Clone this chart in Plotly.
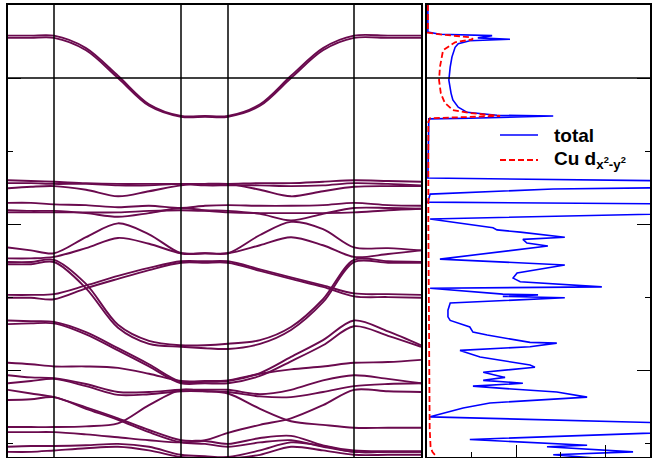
import plotly.graph_objects as go

# ---------------------------------------------------------------------------
# Band structure: cumulative k-path coordinate of each sampled k-point
k_path = [0.00, 0.23, 0.46, 0.78, 1.10, 1.41, 1.73, 1.97, 2.20,
          2.52, 2.83, 3.15, 3.46, 3.80, 4.13]
# positions of the interior high-symmetry points along the path
k_high_sym = [0.46, 1.73, 2.20, 3.46]
k_range = [0.0, 4.13]
energy_range = [-5.19, 1.0]   # eV, Fermi level at 0

# Cu d(x2-y2) derived bands crossing the Fermi level (eV)
bands_conduction = [
    [0.58, 0.58, 0.58, 0.41, 0.03, -0.36, -0.52, -0.52, -0.52, -0.36, 0.03, 0.41, 0.58, 0.58, 0.58],
    [0.55, 0.55, 0.55, 0.38, 0.00, -0.38, -0.53, -0.53, -0.53, -0.38, 0.00, 0.38, 0.55, 0.55, 0.55],
]

# narrow bands between -1.4 and -2.0 eV
bands_upper_valence = [
    [-1.40, -1.41, -1.42, -1.44, -1.45, -1.45, -1.45, -1.45, -1.45, -1.44, -1.44, -1.42, -1.40, -1.41, -1.42],
    [-1.44, -1.44, -1.45, -1.45, -1.47, -1.47, -1.45, -1.47, -1.47, -1.47, -1.48, -1.47, -1.44, -1.45, -1.47],
    [-1.51, -1.49, -1.48, -1.53, -1.62, -1.55, -1.47, -1.45, -1.45, -1.53, -1.62, -1.55, -1.49, -1.48, -1.48],
    [-1.71, -1.71, -1.73, -1.74, -1.77, -1.75, -1.78, -1.75, -1.74, -1.75, -1.75, -1.74, -1.71, -1.74, -1.75],
    [-1.84, -1.84, -1.84, -1.84, -1.84, -1.82, -1.81, -1.82, -1.84, -1.85, -1.85, -1.85, -1.84, -1.81, -1.79],
    [-1.81, -1.82, -1.82, -1.85, -1.90, -1.85, -1.78, -1.81, -1.82, -1.86, -1.95, -1.86, -1.78, -1.78, -1.79],
]

# dispersive bands between -2.0 and -3.7 eV
bands_middle_valence = [
    [-2.32, -2.36, -2.40, -2.18, -1.99, -2.14, -2.40, -2.40, -2.40, -2.15, -1.97, -2.07, -2.32, -2.33, -2.36],
    [-2.47, -2.47, -2.45, -2.33, -2.19, -2.27, -2.40, -2.40, -2.40, -2.29, -2.18, -2.29, -2.45, -2.41, -2.36],
    [-2.52, -2.52, -2.49, -2.82, -3.38, -3.60, -3.66, -3.66, -3.64, -3.59, -3.41, -3.03, -2.49, -2.51, -2.52],
    [-2.55, -2.55, -2.52, -2.88, -3.42, -3.64, -3.68, -3.70, -3.71, -3.64, -3.45, -3.07, -2.52, -2.53, -2.53],
    [-2.97, -2.97, -2.96, -2.84, -2.71, -2.60, -2.51, -2.51, -2.51, -2.62, -2.73, -2.84, -2.95, -2.96, -2.97],
    [-3.01, -3.01, -3.03, -2.88, -2.75, -2.63, -2.53, -2.53, -2.53, -2.64, -2.75, -2.86, -2.99, -3.00, -3.01],
]

# deeper bands below -3.3 eV
bands_lower_valence = [
    [-3.32, -3.33, -3.34, -3.48, -3.70, -3.92, -4.16, -4.16, -4.15, -4.04, -3.82, -3.59, -3.32, -3.47, -3.66],
    [-3.37, -3.36, -3.36, -3.51, -3.73, -3.95, -4.18, -4.18, -4.18, -4.08, -3.88, -3.66, -3.40, -3.53, -3.68],
    [-3.90, -3.92, -3.95, -3.95, -3.97, -4.05, -4.15, -4.15, -4.14, -4.05, -3.99, -3.95, -3.90, -3.89, -3.86],
    [-4.18, -4.15, -4.12, -4.22, -4.34, -4.33, -4.29, -4.29, -4.30, -4.36, -4.37, -4.30, -4.22, -4.19, -4.18],
    [-4.07, -4.10, -4.11, -4.19, -4.30, -4.30, -4.27, -4.27, -4.27, -4.33, -4.27, -4.14, -4.07, -4.12, -4.18],
    [-4.78, -4.78, -4.78, -4.77, -4.73, -4.48, -4.27, -4.29, -4.32, -4.53, -4.70, -4.75, -4.79, -4.79, -4.79],
    [-4.85, -4.85, -4.85, -4.88, -4.92, -4.96, -4.99, -4.96, -4.86, -4.75, -4.66, -4.48, -4.27, -4.29, -4.30],
    [-4.27, -4.32, -4.37, -4.51, -4.66, -4.82, -4.96, -4.97, -5.01, -4.93, -4.90, -5.03, -5.10, -5.11, -5.11],
    [-4.41, -4.40, -4.37, -4.53, -4.68, -4.85, -4.99, -5.01, -5.05, -4.99, -4.96, -5.05, -5.12, -5.12, -5.12],
    [-5.05, -5.04, -5.04, -5.03, -5.01, -5.05, -5.16, -5.18, -5.19, -5.10, -4.99, -5.04, -5.12, -5.12, -5.12],
    [-5.12, -5.12, -5.10, -5.07, -5.05, -5.10, -5.19, -5.21, -5.21, -5.16, -5.05, -5.10, -5.16, -5.16, -5.16],
]

# ---------------------------------------------------------------------------
# Density of states (states/eV) versus energy (eV)
dos_total_energy = [
    1.00, 0.63, 0.60, 0.58, 0.55, 0.53, 0.51, 0.47, 0.42, 0.29, 0.15, -0.03, -0.21, -0.30,
    -0.40, -0.47, -0.51, -0.52, -0.55, -0.56, -1.37, -1.42, -1.49, -1.52, -1.59, -1.70,
    -1.73, -1.84, -1.93, -2.05, -2.08, -2.11, -2.18, -2.21, -2.26, -2.30, -2.48, -2.56,
    -2.67, -2.74, -2.79, -2.86, -2.88, -2.96, -2.97, -2.99, -3.01, -3.08, -3.18, -3.27,
    -3.32, -3.41, -3.48, -3.52, -3.62, -3.63, -3.68, -3.73, -3.82, -3.93, -3.96, -4.00,
    -4.03, -4.10, -4.14, -4.18, -4.22, -4.25, -4.30, -4.37, -4.45, -4.52, -4.64, -4.75,
    -4.82, -4.95, -5.03, -5.05, -5.12, -5.16, -5.21,
]
dos_total = [
    0.02, 0.02, 0.29, 1.46, 1.14, 1.86, 0.96, 0.70, 0.63, 0.56, 0.52, 0.49, 0.54, 0.58,
    0.70, 0.90, 1.57, 2.83, 0.96, 0.04, 0.02, 7.00, 7.00, 2.83, 0.07, 0.02,
    7.00, 7.00, 0.07, 1.48, 1.57, 2.09, 3.09, 2.15, 2.24, 2.71, 0.29, 3.09,
    2.02, 1.93, 2.09, 3.92, 0.07, 1.70, 2.49, 1.70, 3.09, 0.52, 0.47, 0.47,
    0.52, 0.96, 1.03, 1.35, 2.31, 2.91, 2.31, 0.74, 1.19, 2.31, 2.42, 1.70,
    1.26, 1.75, 1.26, 2.15, 1.03, 1.70, 2.91, 3.59, 1.41, 0.81, 0.07, 7.00,
    7.00, 0.96, 3.59, 2.69, 4.62, 2.83, 3.90,
]

dos_cu_energy = [
    1.00, 0.62, 0.59, 0.56, 0.53, 0.49, 0.38, 0.15, -0.03, -0.21, -0.34, -0.44, -0.48,
    -0.52, -0.55, -0.60, -2.00, -3.00, -4.00, -4.80, -5.05, -5.12, -5.19,
]
dos_cu = [
    0.02, 0.02, 0.40, 0.96, 1.03, 0.63, 0.36, 0.29, 0.27, 0.31, 0.40, 0.58, 0.96,
    1.64, 0.07, 0.03, 0.03, 0.04, 0.05, 0.06, 0.08, 0.12, 0.22,
]
dos_range = [0.0, 5.0]

legend_labels = ["total", "Cu d<sub>x<sup>2</sup>-y<sup>2</sup></sub>"]

# ---------------------------------------------------------------------------
W, H = 662, 458
band_color = "#6a0a4e"

fig = go.Figure()

for group in (bands_conduction, bands_upper_valence, bands_middle_valence, bands_lower_valence):
    for band in group:
        fig.add_trace(go.Scatter(
            x=k_path, y=band, mode="lines",
            line=dict(color=band_color, width=1.9, shape="spline", smoothing=0.9),
            showlegend=False, hoverinfo="skip", xaxis="x", yaxis="y"))

fig.add_trace(go.Scatter(
    x=dos_total, y=dos_total_energy, mode="lines",
    line=dict(color="#0000ff", width=1.6),
    showlegend=False, xaxis="x2", yaxis="y2"))
fig.add_trace(go.Scatter(
    x=dos_cu, y=dos_cu_energy, mode="lines",
    line=dict(color="#ff0000", width=1.8, dash="6px,3px"),
    showlegend=False, xaxis="x2", yaxis="y2"))

shapes = []
# high-symmetry verticals
for k in k_high_sym:
    shapes.append(dict(type="line", xref="x", yref="y domain", x0=k, x1=k, y0=0, y1=1,
                       line=dict(color="black", width=1.5), layer="above"))
# Fermi level in both panels
shapes.append(dict(type="line", xref="x domain", yref="y", x0=0, x1=1, y0=0, y1=0,
                   line=dict(color="black", width=1.5), layer="above"))
shapes.append(dict(type="line", xref="x2 domain", yref="y2", x0=0, x1=1, y0=0, y1=0,
                   line=dict(color="black", width=1.5), layer="above"))

# legend samples and labels drawn inside the DOS panel
legend_rows = [135, 160]
legend_styles = [dict(color="#0000ff", width=1.6), dict(color="#ff0000", width=1.8, dash="6px,3px")]
annotations = []
for row, style, label in zip(legend_rows, legend_styles, legend_labels):
    yp = 1 - row / H
    shapes.append(dict(type="line", xref="paper", yref="paper",
                       x0=500 / W, x1=538 / W, y0=yp, y1=yp, line=style))
    annotations.append(dict(xref="paper", yref="paper", x=552 / W, y=yp,
                            xanchor="left", yanchor="middle", showarrow=False,
                            text="<b>" + label + "</b>",
                            font=dict(family="Liberation Sans, Arial, sans-serif",
                                      size=19, color="black")))

axis_common = dict(showline=True, linecolor="black", linewidth=1.5, mirror=True,
                   showgrid=False, zeroline=False, showticklabels=False)
y_ticks = dict(ticks="inside", tickmode="linear", tick0=0, dtick=2, ticklen=13,
               tickwidth=1.2, tickcolor="black",
               minor=dict(ticks="inside", tickmode="linear", tick0=0, dtick=1,
                          ticklen=5, tickwidth=1.2, tickcolor="black"))

ybot, ytop = 1 / H, 1 - 5 / H
fig.update_layout(
    width=W, height=H,
    margin=dict(l=0, r=0, t=0, b=0),
    paper_bgcolor="white", plot_bgcolor="white",
    showlegend=False,
    xaxis=dict(domain=[8 / W, 421 / W], range=k_range, ticks="", anchor="y", **axis_common),
    yaxis=dict(domain=[ybot, ytop], range=energy_range, anchor="x", **y_ticks, **axis_common),
    xaxis2=dict(domain=[427 / W, 650 / W], range=dos_range, anchor="y2",
                ticks="inside", tickmode="linear", tick0=0, dtick=2, ticklen=12,
                tickwidth=1.2, tickcolor="black",
                minor=dict(ticks="inside", tickmode="linear", tick0=0, dtick=1,
                           ticklen=5, tickwidth=1.2, tickcolor="black"),
                **axis_common),
    yaxis2=dict(domain=[ybot, ytop], range=energy_range, anchor="x2", side="right",
                **y_ticks, **axis_common),
    shapes=shapes,
    annotations=annotations,
)

fig.write_html("out.html")
